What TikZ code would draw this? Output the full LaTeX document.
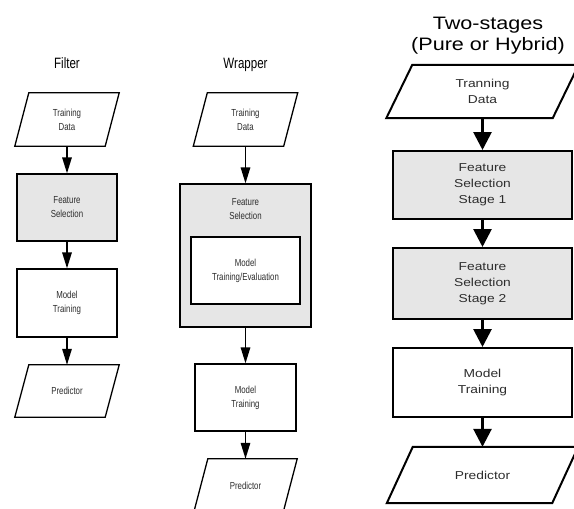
\documentclass[tikz,border=0pt]{standalone}
\usepackage{fontspec}
\setmainfont{Liberation Sans}
\newfontfamily\narrowf[FakeStretch=0.77]{Liberation Sans}
\newfontfamily\widef[FakeStretch=1.2]{Liberation Sans}
\usetikzlibrary{arrows.meta}
\definecolor{boxgray}{RGB}{230,230,230}
\definecolor{txtgray}{RGB}{45,45,45}
% parallelogram outline around a (text) node: [style]{node}{slant}
\newcommand\paral[3][]{%
  \draw[#1] ([xshift=#3]#2.north west) -- ([xshift=#3]#2.north east)
     -- ([xshift=-#3]#2.south east) -- ([xshift=-#3]#2.south west) -- cycle;}
\tikzset{
  lnode/.style={inner sep=0pt, align=center, text=txtgray,
                font=\narrowf\fontsize{10.2}{14}\selectfont},
  lbox/.style={lnode, draw=black, line width=1.3pt},
  lline/.style={line width=1.3pt},
  larrow/.style={line width=1.5pt, -{Triangle[length=16pt,width=9.5pt]}},
  ltitle/.style={inner sep=0pt, font=\narrowf\fontsize{15}{18}\selectfont},
  rnode/.style={inner sep=0pt, align=center, text=txtgray,
                font=\widef\fontsize{11.5}{16}\selectfont},
  rbox/.style={rnode, draw=black, line width=2pt},
  rline/.style={line width=2pt},
  rarrow/.style={line width=2.8pt, -{Triangle[length=18pt,width=18pt]}},
  rtitle/.style={inner sep=0pt, font=\widef\fontsize{18}{21.5}\selectfont},
  grayfill/.style={fill=boxgray}
}
\begin{document}
\begin{tikzpicture}[x=1pt,y=-1pt]
\useasboundingbox (0,0) rectangle (574,509);
\clip (0,0) rectangle (574,509);
\fill[white] (0,0) rectangle (574,509);

% ---------------- Filter ----------------
\node[ltitle, anchor=base] (tfilter) at (67,68.3) {Filter};
\node[lnode, minimum width=90pt, minimum height=53pt] (ftd) at (67,119.5) {Training\\Data};
\paral[lline]{ftd}{7pt}
\node[lbox, grayfill, minimum width=100pt, minimum height=67pt] (ffs) at (67,207.5) {Feature\\Selection};
\node[lbox, minimum width=100pt, minimum height=68pt] (fmt) at (67,303) {Model\\Training};
\node[lnode, minimum width=90pt, minimum height=52pt] (fpr) at (67,391) {Predictor};
\paral[lline]{fpr}{7pt}
\draw[larrow] (ftd.south) -- (ffs.north);
\draw[larrow] (ffs.south) -- (fmt.north);
\draw[larrow] (fmt.south) -- (fpr.north);

% ---------------- Wrapper ----------------
\node[ltitle, anchor=base] (twrap) at (245.5,68.3) {Wrapper};
\node[lnode, minimum width=90pt, minimum height=53pt] (wtd) at (245.5,119.5) {Training\\Data};
\paral[lline]{wtd}{7pt}
\node[lbox, grayfill, minimum width=131pt, minimum height=143pt] (wfs) at (245.5,255.5) {};
\node[lnode] (wfslabel) at (245.5,209.3) {Feature\\Selection};
\node[lbox, fill=white, minimum width=109pt, minimum height=67pt] (wme) at (245.5,270.5) {Model\\Training/Evaluation};
\node[lbox, minimum width=101pt, minimum height=67pt] (wmt) at (245.5,397.5) {Model\\Training};
\node[lnode, minimum width=89pt, minimum height=53pt] (wpr) at (245.5,485.5) {Predictor};
\paral[lline]{wpr}{7pt}
\draw[larrow] (wtd.south) -- (wfs.north);
\draw[larrow] (wfs.south) -- (wmt.north);
\draw[larrow] (wmt.south) -- (wpr.north);

% ---------------- Two-stages ----------------
\node[rtitle, anchor=base] (ttitle1) at (488,29) {Two-stages};
\node[rtitle, anchor=base] (ttitle2) at (488,50.5) {(Pure or Hybrid)};
\node[rnode, minimum width=166pt, minimum height=53pt] (ttd) at (482.5,91.5) {Tranning\\Data};
\paral[rline]{ttd}{13pt}
\node[rbox, grayfill, minimum width=179pt, minimum height=68pt] (ts1) at (482.5,185) {Feature\\Selection\\Stage 1};
\node[rbox, grayfill, minimum width=179pt, minimum height=71pt] (ts2) at (482.5,283.5) {Feature\\Selection\\Stage 2};
\node[rbox, minimum width=179pt, minimum height=69pt] (tmt) at (482.5,382.5) {Model\\Training};
\node[rnode, minimum width=165pt, minimum height=56pt] (tpr) at (482.5,475) {Predictor};
\paral[rline]{tpr}{13pt}
\draw[rarrow] (ttd.south) -- (ts1.north);
\draw[rarrow] (ts1.south) -- (ts2.north);
\draw[rarrow] (ts2.south) -- (tmt.north);
\draw[rarrow] (tmt.south) -- (tpr.north);
\end{tikzpicture}
\end{document}
